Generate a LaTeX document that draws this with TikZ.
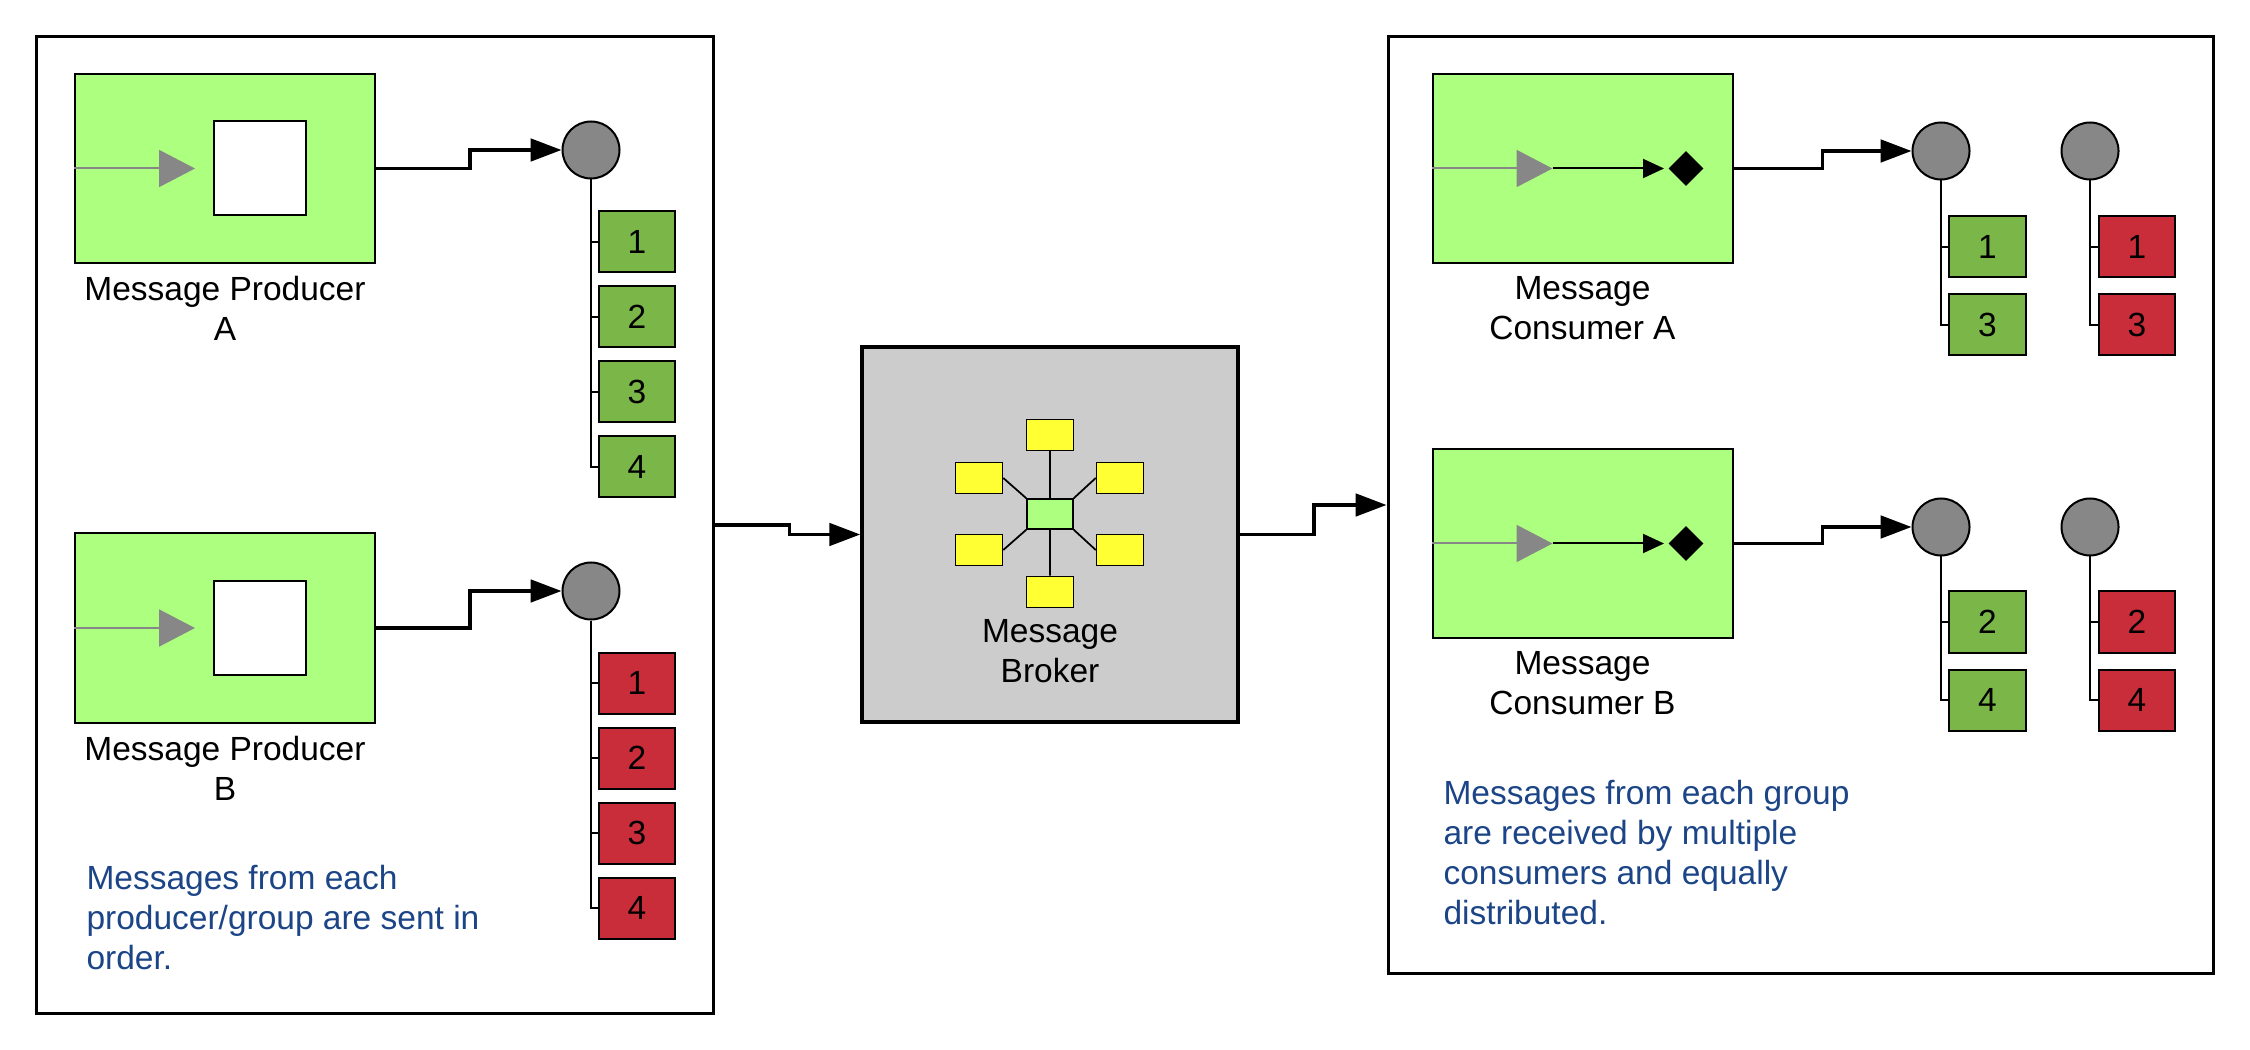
\documentclass[tikz,border=0pt]{standalone}
\usepackage{fontspec}
\setmainfont{Liberation Sans}
\usepackage{xcolor}
\usepackage{tikz}
\usetikzlibrary{arrows.meta,positioning,calc,shapes.geometric}
\definecolor{lm}{HTML}{ADFF7F}
\definecolor{gm}{HTML}{7AB648}
\definecolor{rm}{HTML}{C92D39}
\definecolor{qg}{HTML}{878787}
\definecolor{bk}{HTML}{CCCCCC}
\definecolor{yl}{HTML}{FFFF33}
\definecolor{nt}{HTML}{1C4587}
\newcommand{\Fs}{\fontsize{13.4}{16}\selectfont}

\begin{document}
\begin{tikzpicture}[x=0.4pt,y=-0.4pt,
  grpbox/.style={draw, line width=1.2pt, inner sep=0},
  endpt/.style={draw, fill=lm, line width=0.8pt, minimum width=120pt, minimum height=75.6pt, inner sep=0},
  inbox/.style={draw, fill=white, line width=0.8pt, minimum width=36.8pt, minimum height=37.6pt, inner sep=0},
  que/.style={circle, draw, fill=qg, line width=0.8pt, minimum size=22.8pt, inner sep=0},
  msg/.style={draw, line width=0.8pt, minimum width=30.6pt, minimum height=24.4pt, inner sep=0, font=\Fs},
  slot/.style={draw, fill=yl, line width=0.6pt, minimum width=18.8pt, minimum height=12.4pt, inner sep=0},
  pick/.style={diamond, fill=black, minimum width=14pt, minimum height=14pt, inner sep=0},
  lbl/.style={font=\Fs, align=center, inner sep=0, anchor=north, yshift=-4.8pt},
  note/.style={font=\Fs, text=nt, align=left, inner sep=0, anchor=north west},
  flow/.style={line width=1.4pt, -{Triangle[length=12.4pt,width=9pt]}},
  feed/.style={draw=qg, line width=0.8pt, -{Triangle[length=14.4pt,width=14.8pt]}},
  pull/.style={line width=0.8pt, -{Triangle[length=8.4pt,width=7.6pt]}, shorten >=1.6pt},
  tick/.style={line width=0.7pt}]
  \useasboundingbox (0,0) rectangle (2250,1050);
  \node[grpbox, minimum width=270.4pt, minimum height=390.4pt] (lft) at (375,525) {};
  \node[grpbox, minimum width=330pt, minimum height=374.4pt] (rgt) at (1800.5,505) {};

  % producers
  \node[endpt] (proda) at (225,168.5) {};
  \node[inbox] (wa) at (260,168.5) {};
  \draw[feed] (proda.west) -- ([xshift=-7.2pt]wa.west);
  \node[lbl] (lpa) at (proda.south) {Message Producer\\A};
  \node[que] (qpa) at (591,150) {};
  \draw[flow] (proda.east) -- ++(94,0) |- (qpa.west);
  \foreach \i/\y in {1/242,2/317,3/392,4/467} {
    \node[msg, fill=gm] (pa\i) at (637,\y) {\i};
    \draw[tick] (qpa.south) |- (pa\i.west);
  }

  \node[endpt] (prodb) at (225,628) {};
  \node[inbox] (wb) at (260,628) {};
  \draw[feed] (prodb.west) -- ([xshift=-7.2pt]wb.west);
  \node[lbl] (lpb) at (prodb.south) {Message Producer\\B};
  \node[que] (qpb) at (591,591) {};
  \draw[flow] (prodb.east) -- ++(94,0) |- (qpb.west);
  \foreach \i/\y in {1/683,2/758,3/833,4/908} {
    \node[msg, fill=rm] (pb\i) at (637,\y) {\i};
    \draw[tick] (qpb.south) |- (pb\i.west);
  }
  \node[note] (npr) at (86,865) {Messages from each\\producer/group are sent in\\order.};

  % broker
  \node[draw, fill=bk, line width=1.4pt, minimum width=150.4pt, minimum height=150pt] (brk) at (1050,534.5) {};
  \node[slot, fill=lm, minimum width=18.4pt, minimum height=12pt] (hub) at (1050,514) {};
  \node[slot] (st) at (1050,435) {};
  \node[slot] (sb) at (1050,592) {};
  \node[slot] (sul) at (979,478) {};
  \node[slot] (sur) at (1120,478) {};
  \node[slot] (sll) at (979,550) {};
  \node[slot] (slr) at (1120,550) {};
  \draw[tick] (st.south) -- (hub.north) (hub.south) -- (sb.north)
    (sul.east) -- (hub.north west) (sur.west) -- (hub.north east)
    (sll.east) -- (hub.south west) (slr.west) -- (hub.south east);
  \node[font=\Fs, align=center, inner sep=0, anchor=north] (lbr) at (1050,619) {Message\\Broker};
  \draw[flow] (lft.east) -- ++(75,0) |- (brk.west);
  \draw[flow] (brk.east) -- ++(74,0) |- (rgt.west);

  % consumers
  \node[endpt] (consa) at (1582.5,168.5) {};
  \node[pick] (da) at (1686,168.5) {};
  \coordinate (ta) at ([xshift=48.4pt]consa.west);
  \draw[feed] (consa.west) -- (ta);
  \draw[pull] (ta) -- (da.west);
  \node[lbl] (lca) at (consa.south) {Message\\Consumer A};
  \node[que] (qcag) at (1941,151) {};
  \node[que] (qcar) at (2090,151) {};
  \draw[flow] (consa.east) -- ++(89,0) |- (qcag.west);
  \foreach \i/\y in {1/247,3/325} {
    \node[msg, fill=gm] (cag\i) at (1987.5,\y) {\i};
    \node[msg, fill=rm] (car\i) at (2137,\y) {\i};
    \draw[tick] (qcag.south) |- (cag\i.west);
    \draw[tick] (qcar.south) |- (car\i.west);
  }

  \node[endpt] (consb) at (1582.5,543.5) {};
  \node[pick] (db) at (1686,543.5) {};
  \coordinate (tb) at ([xshift=48.4pt]consb.west);
  \draw[feed] (consb.west) -- (tb);
  \draw[pull] (tb) -- (db.west);
  \node[lbl] (lcb) at (consb.south) {Message\\Consumer B};
  \node[que] (qcbg) at (1941,527) {};
  \node[que] (qcbr) at (2090,527) {};
  \draw[flow] (consb.east) -- ++(89,0) |- (qcbg.west);
  \foreach \i/\y in {2/622,4/700} {
    \node[msg, fill=gm] (cbg\i) at (1987.5,\y) {\i};
    \node[msg, fill=rm] (cbr\i) at (2137,\y) {\i};
    \draw[tick] (qcbg.south) |- (cbg\i.west);
    \draw[tick] (qcbr.south) |- (cbr\i.west);
  }
  \node[note] (ncs) at (1443,780) {Messages from each group\\are received by multiple\\consumers and equally\\distributed.};
\end{tikzpicture}
\end{document}
